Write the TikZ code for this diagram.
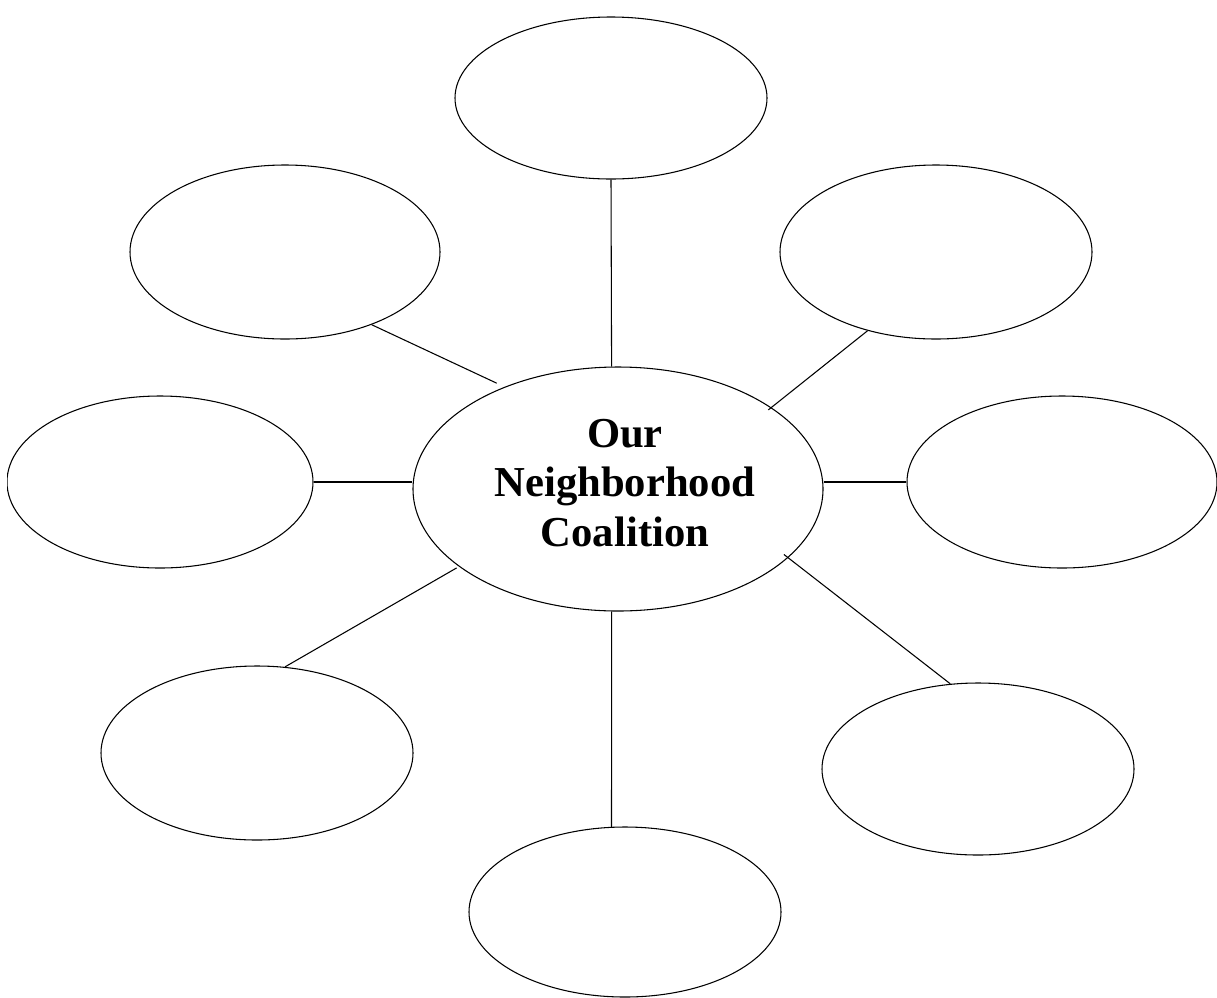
\documentclass[tikz,border=0pt]{standalone}
\usepackage{fontspec}
\setmainfont{Liberation Serif}
\usepackage{tikz}
\usetikzlibrary{shapes.geometric}
\tikzstyle{bubble} = [draw, ellipse, inner sep=0pt, line width=0.8pt, minimum width=234pt, minimum height=129pt]
\tikzstyle{hub} = [draw, ellipse, inner sep=0pt, line width=0.8pt, minimum width=307.5pt, minimum height=183pt]
\tikzstyle{title} = [draw=none, align=center, font=\fontsize{32}{37}\selectfont\bfseries]
\tikzstyle{link} = [-, line width=0.8pt]

\begin{document}
\begin{tikzpicture}[x=0.75pt, y=-0.75pt]
            \useasboundingbox (0,0) rectangle (1217,997);
            \clip (7,0) rectangle (1217,997);

            \node[hub](c) at (618,489) {};
            \node[title](name) at (625,483) {Our\\Neighborhood\\Coalition};
            \node[bubble, minimum height=121.5pt](top) at (611,98) {};
            \node[bubble, minimum width=232.5pt, minimum height=130.5pt](ul) at (285,252) {};
            \node[bubble, minimum height=130.5pt](ur) at (936,252) {};
            \node[bubble, minimum width=229.5pt](l) at (160,482) {};
            \node[bubble, minimum width=232.5pt](r) at (1062,482) {};
            \node[bubble, minimum height=130.5pt](ll) at (257,753) {};
            \node[bubble](lr) at (978,769) {};
            \node[bubble, minimum height=127.5pt](b) at (625,912) {};

            \draw[link](top.south) -- (c.93.3);
            \draw[link, shorten >=6.5pt](ul.-40) -- (c.138);
            \draw[link, shorten >=-3pt](ur.-131) -- (c.28.4);
            \draw[link](l.east) -- (l.east -| c.west);
            \draw[link](c.east |- r.west) -- (r.west);
            \draw[link, shorten >=2pt](ll.72) -- (c.-154);
            \draw[link, shorten <=-4pt](c.-22.4) -- (lr.108);
            \draw[link](c.-93.3) -- (b.99);
\end{tikzpicture}
\end{document}
